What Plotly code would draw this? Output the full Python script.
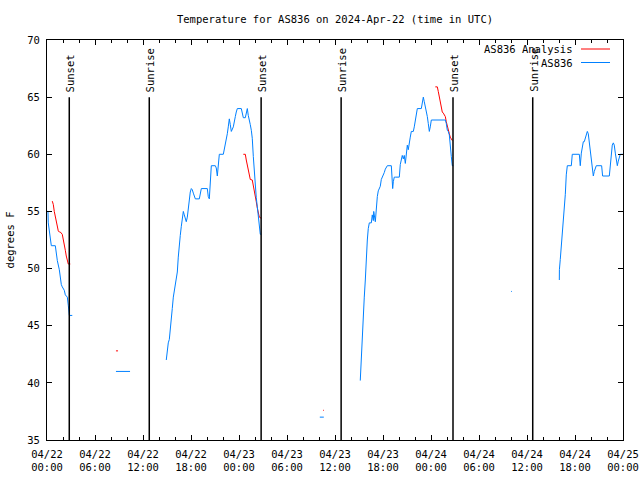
import pandas as pd
import plotly.graph_objects as go

BASE = pd.Timestamp("2024-04-22 00:00")

# Observations (AS836) -- hours after 2024-04-22 00:00 UTC, None = gap
obs_hours = [0.00, 0.12, 0.16, 0.29, 0.41, 0.54, 1.04, 1.10, 1.16, 1.29, 1.54, 1.66, 1.79, 1.91, 2.16, 2.29, 2.54, 2.66, 2.79, 3.16, None,
             8.62, 10.38, None,
             14.91, 15.04, 15.16, 15.29, 15.41, 15.54, 15.66, 15.79, 15.91, 16.04, 16.16, 16.29, 16.41, 16.54, 16.66, 16.79, 16.91, 17.04,
             17.16, 17.29, 17.41, 17.54, 17.66, 17.79, 17.91, 18.04, 18.16, 18.29, 18.41, 18.54, 19.04, 19.16, 19.29, 20.04, 20.16, 20.29,
             20.41, 20.54, 21.04, 21.16, 21.29, 21.41, 21.54, 22.04, 22.16, 22.29, 22.41, 22.54, 22.66, 22.79, 22.91, 23.04, 23.29, 23.41,
             23.54, 23.66, 23.79, 24.29, 24.41, 24.54, 24.79, 24.91, 25.04, 25.16, 25.29, 25.41, 25.54, 25.66, 25.79, 25.91, 26.04, 26.16,
             26.29, 26.41, 26.54, 26.66, 26.79, None,
             34.10, 34.60, None,
             39.16, 39.29, 39.41, 39.54, 39.66, 39.79, 39.91, 40.04, 40.16, 40.29, 40.54, 40.66, 40.79, 40.84, 41.04, 41.16, 41.29, 41.41,
             41.54, 41.66, 41.79, 41.91, 42.04, 42.16, 42.29, 42.41, 42.54, 43.04, 43.13, 43.21, 43.29, 43.41, 43.54, 44.04, 44.16, 44.29,
             44.41, 44.54, 44.66, 44.79, 44.91, 45.04, 45.16, 45.29, 45.41, 45.54, 45.79, 45.91, 46.04, 46.16, 46.29, 46.79, 46.91, 47.04,
             47.16, 47.29, 47.41, 47.54, 47.66, 47.79, 47.91, 48.04, 49.79, 49.91, 50.04, 50.16, 50.29, 50.41, 50.54, 50.66, 50.79, None,
             58.00, 58.10, None,
             64.04, 64.05, 64.16, 64.29, 64.41, 64.54, 64.66, 64.79, 64.91, 65.04, 65.54, 65.66, 66.54, 66.66, 66.79, 66.91, 67.04, 67.16,
             67.29, 67.41, 67.54, 67.66, 67.79, 67.91, 68.04, 68.16, 68.29, 68.41, 68.54, 68.66, 69.33, 69.45, 70.29, 70.41, 70.54, 70.66,
             70.79, 70.91, 71.04, 71.16, 71.29, 71.41, 71.54, 71.66, 72.00]
obs_temp = [55.0, 55.0, 54.0, 53.2, 53.0, 52.0, 52.0, 51.6, 51.2, 50.7, 49.9, 49.0, 48.6, 48.4, 48.1, 47.7, 47.5, 46.8, 45.9, 45.9, None,
            41.0, 41.0, None,
            42.0, 43.1, 43.5, 43.8, 44.5, 45.5, 46.5, 47.5, 48.1, 48.3, 49.0, 49.7, 51.0, 52.4, 52.9, 53.7, 54.5, 55.0,
            54.7, 54.4, 54.1, 54.5, 55.3, 56.0, 56.7, 57.0, 56.9, 56.6, 56.3, 56.1, 56.1, 56.6, 57.0, 57.0, 56.3, 56.1,
            58.3, 59.0, 59.0, 58.8, 58.1, 59.5, 60.0, 60.0, 60.4, 61.0, 61.1, 61.8, 62.4, 63.1, 62.6, 62.0, 62.4, 63.0,
            63.3, 63.7, 64.0, 64.0, 63.6, 63.2, 63.2, 63.7, 64.0, 63.4, 63.1, 62.6, 62.1, 61.4, 59.8, 58.3, 57.2, 56.2,
            55.4, 54.5, 53.5, 53.0, 53.0, None,
            37.0, 37.0, None,
            40.2, 42.3, 44.8, 46.4, 47.5, 49.0, 51.0, 52.5, 53.5, 54.0, 54.0, 54.7, 54.2, 55.0, 54.1, 55.6, 56.3, 56.8,
            57.1, 57.2, 57.8, 58.0, 58.1, 58.4, 58.7, 58.9, 59.0, 59.0, 58.0, 57.0, 57.6, 58.0, 58.0, 58.0, 59.1, 59.5,
            59.9, 59.6, 59.9, 59.2, 60.2, 60.8, 60.4, 61.2, 61.5, 62.0, 62.0, 62.4, 62.9, 63.4, 64.0, 64.0, 64.5, 65.0,
            64.6, 64.2, 63.7, 63.3, 62.7, 62.0, 62.4, 63.0, 63.0, 62.7, 62.1, 62.0, 61.7, 60.5, 59.8, 59.0, 59.0, None,
            48.0, 48.0, None,
            49.0, 49.9, 50.8, 52.0, 52.7, 53.5, 54.9, 56.5, 58.2, 59.0, 59.0, 60.0, 60.0, 59.0, 60.1, 60.7, 61.1, 61.1,
            61.5, 61.8, 62.0, 61.8, 61.0, 60.2, 59.5, 58.8, 58.1, 58.5, 58.9, 59.0, 59.0, 58.1, 58.1, 59.0, 60.1, 60.8,
            61.0, 60.8, 60.1, 59.4, 59.0, 59.4, 59.8, 60.0, 60.0]

# Analysis (AS836 Analysis)
ana_hours = [0.66, 0.79, 0.91, 1.04, 1.16, 1.29, 1.41, 1.54, 1.66, 1.91, 2.04, 2.16, 2.29, 2.41, 2.54, 2.66, 2.91, None,
             8.62, 8.88, None,
             24.54, 24.79, 24.91, 25.04, 25.16, 25.29, 25.41, 25.66, 25.79, 25.91, 26.04, 26.16, 26.29, 26.41, 26.54, 26.79, None,
             34.50, 34.60, None,
             48.54, 48.79, 48.91, 49.04, 49.16, 49.29, 49.41, 49.54, 49.66, 49.79, 49.91, 50.04, 50.16, 50.29, 50.41, 50.54, 50.66]
ana_temp = [55.9, 55.6, 55.0, 54.5, 54.2, 53.7, 53.3, 53.2, 53.2, 53.0, 52.6, 52.1, 51.6, 51.1, 50.6, 50.4, 50.4, None,
            42.8, 42.8, None,
            60.0, 60.0, 59.5, 59.1, 58.6, 58.2, 57.8, 57.75, 57.3, 57.0, 56.3, 55.85, 55.3, 54.8, 54.5, 54.4, None,
            37.6, 37.6, None,
            65.9, 65.9, 65.5, 65.0, 64.6, 64.2, 63.7, 63.6, 63.4, 63.3, 62.85, 62.4, 62.2, 61.8, 61.5, 61.25, 61.2]

# Sun events
sun_labels = ["Sunset", "Sunrise", "Sunset", "Sunrise", "Sunset", "Sunrise"]
sun_times = ["2024-04-22 02:47", "2024-04-22 12:47", "2024-04-23 02:46",
             "2024-04-23 12:46", "2024-04-24 02:45", "2024-04-24 12:43"]
sun_line_top = 65.0

legend_names = ["AS836 Analysis", "AS836"]
colors = ["#ff0000", "#0080ff"]

title_text = "Temperature for AS836 on 2024-Apr-22 (time in UTC)"
y_title = "degrees F"
x_range = ["2024-04-22 00:00", "2024-04-25 00:00"]
y_range = [35, 70]

FONT = "DejaVu Sans Mono"
FS = 10.5


def to_time(hours):
    return [None if h is None else BASE + pd.Timedelta(hours=h) for h in hours]


fig = go.Figure()
fig.add_trace(go.Scatter(x=to_time(ana_hours), y=ana_temp, mode="lines",
                         line=dict(color=colors[0], width=1), name=legend_names[0],
                         connectgaps=False))
fig.add_trace(go.Scatter(x=to_time(obs_hours), y=obs_temp, mode="lines",
                         line=dict(color=colors[1], width=1), name=legend_names[1],
                         connectgaps=False))

for lab, t in zip(sun_labels, sun_times):
    fig.add_shape(type="line", xref="x", yref="y", x0=t, x1=t, y0=y_range[0], y1=sun_line_top,
                  line=dict(color="black", width=1.5))
    fig.add_annotation(x=t, y=sun_line_top, xref="x", yref="y", text=lab, textangle=-90,
                       showarrow=False, xanchor="center", yanchor="bottom", yshift=3, xshift=1,
                       font=dict(family=FONT, size=FS, color="black"))

# custom legend (text right-aligned, sample on the right, like gnuplot)
for i, (nm, c) in enumerate(zip(legend_names, colors)):
    ypix = 49 + i * 13.5
    yp = 1 - (ypix - 40) / 400
    fig.add_annotation(x=(575 - 47) / 576, y=yp, xref="paper", yref="paper", text=nm,
                       showarrow=False, xanchor="right", yanchor="middle",
                       font=dict(family=FONT, size=FS, color="black"))
    fig.add_shape(type="line", xref="paper", yref="paper",
                  x0=(581 - 47) / 576, x1=(610 - 47) / 576, y0=yp, y1=yp,
                  line=dict(color=c, width=1))

fig.update_layout(
    width=640, height=480,
    margin=dict(l=47, r=17, t=40, b=40, autoexpand=False),
    paper_bgcolor="white", plot_bgcolor="white",
    showlegend=False,
    font=dict(family=FONT, size=FS, color="black"),
    title=dict(text=title_text, x=0.5, xref="paper", y=1 - 19 / 480, yref="container",
               yanchor="middle", xanchor="center", font=dict(family=FONT, size=FS, color="black")),
)
fig.update_xaxes(type="date", range=x_range, dtick=6 * 3600 * 1000, tick0="2024-04-22 00:00",
                 tickformat="%m/%d<br>%H:%M", ticks="inside", ticklen=5, tickcolor="black",
                 showline=True, linecolor="black", linewidth=1, mirror="ticks", showgrid=False,
                 zeroline=False, tickfont=dict(family=FONT, size=FS), ticklabelstandoff=4,
                 minor=dict(dtick=2 * 3600 * 1000, ticks="inside", ticklen=3, tickcolor="black", showgrid=False))
fig.update_yaxes(range=y_range, dtick=5, ticks="inside", ticklen=5, tickcolor="black",
                 showline=True, linecolor="black", linewidth=1, mirror="ticks", showgrid=False,
                 zeroline=False, tickfont=dict(family=FONT, size=FS), ticklabelstandoff=4,
                 title=dict(text=y_title, standoff=10, font=dict(family=FONT, size=FS)))

fig.write_html("out.html", config={"displayModeBar": False},
               post_script="document.body.style.margin='0';document.body.style.overflow='hidden';")
